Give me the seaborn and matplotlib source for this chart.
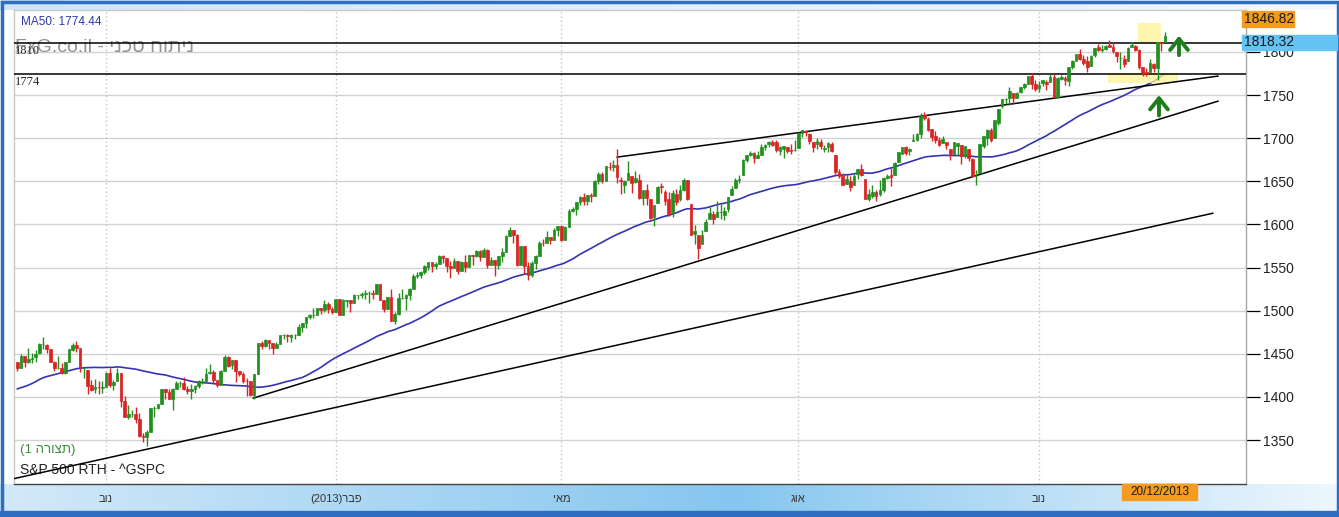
import numpy as np
import pandas as pd
import matplotlib.pyplot as plt
import seaborn as sns
from matplotlib.patches import Rectangle
from matplotlib.colors import to_rgb

# S&P 500 daily candles, 26/09/2012 .. 20/12/2013 (one row per month)
opens = [
    1441, 1433, 1447,
    1440, 1444, 1446, 1451, 1461, 1460, 1455, 1441, 1433, 1433, 1428, 1440, 1454, 1460, 1457, 1433, 1431, 1414, 1409, 1412, 1410,
    1412, 1428, 1414, 1418, 1428, 1395, 1377, 1380, 1380, 1374, 1355, 1354, 1359, 1387, 1387, 1392, 1409, 1406, 1398, 1409, 1416,
    1416, 1409, 1407, 1409, 1413, 1418, 1418, 1428, 1429, 1420, 1414, 1430, 1446, 1437, 1443, 1430, 1427, 1419, 1418, 1402,
    1426, 1462, 1459, 1466, 1462, 1457, 1461, 1472, 1472, 1470, 1472, 1472, 1481, 1486, 1493, 1495, 1495, 1503, 1501, 1508, 1502,
    1498, 1513, 1495, 1511, 1512, 1509, 1518, 1518, 1519, 1520, 1521, 1519, 1531, 1512, 1502, 1516, 1488, 1496, 1515,
    1515, 1518, 1525, 1540, 1541, 1545, 1551, 1556, 1552, 1554, 1563, 1561, 1552, 1549, 1558, 1546, 1556, 1551, 1564, 1563,
    1569, 1562, 1570, 1553, 1559, 1553, 1563, 1568, 1587, 1593, 1588, 1553, 1575, 1552, 1541, 1555, 1563, 1579, 1578, 1585, 1582, 1594,
    1598, 1582, 1597, 1615, 1618, 1626, 1632, 1627, 1634, 1633, 1650, 1659, 1650, 1667, 1666, 1669, 1651, 1646, 1652, 1656, 1649, 1652,
    1631, 1640, 1629, 1609, 1625, 1644, 1638, 1629, 1613, 1635, 1630, 1640, 1651, 1624, 1589, 1588, 1577, 1592, 1606, 1612,
    1609, 1614, 1611, 1618, 1634, 1642, 1652, 1657, 1675, 1680, 1683, 1677, 1681, 1690, 1693, 1696, 1696, 1685, 1687, 1690, 1686, 1686,
    1689, 1706, 1708, 1705, 1695, 1693, 1696, 1688, 1690, 1693, 1680, 1661, 1656, 1647, 1650, 1646, 1659, 1664, 1653, 1630, 1633, 1638,
    1635, 1640, 1654, 1657, 1657, 1672, 1682, 1690, 1685, 1697, 1698, 1705, 1727, 1722, 1711, 1702, 1698, 1694, 1695, 1688,
    1682, 1691, 1692, 1679, 1687, 1676, 1656, 1660, 1691, 1700, 1709, 1700, 1718, 1737, 1745, 1747, 1752, 1747, 1753, 1759, 1763, 1772, 1763,
    1758, 1764, 1765, 1765, 1771, 1748, 1769, 1770, 1766, 1783, 1790, 1798, 1792, 1789, 1784, 1796, 1806, 1802, 1803, 1808,
    1806, 1800, 1793, 1792, 1789, 1806, 1807, 1802, 1782, 1777, 1777, 1786, 1781, 1811, 1811,
]
highs = [
    1441, 1450, 1447,
    1457, 1451, 1454, 1462, 1470, 1461, 1456, 1442, 1447, 1439, 1441, 1455, 1462, 1465, 1457, 1435, 1431, 1420, 1421, 1418, 1418,
    1429, 1434, 1420, 1434, 1428, 1401, 1391, 1385, 1388, 1381, 1358, 1362, 1387, 1389, 1392, 1409, 1409, 1409, 1410, 1419, 1418,
    1423, 1413, 1415, 1414, 1420, 1422, 1434, 1438, 1431, 1420, 1431, 1448, 1447, 1443, 1443, 1430, 1429, 1422, 1418, 1426,
    1462, 1465, 1467, 1466, 1462, 1464, 1472, 1473, 1473, 1473, 1473, 1485, 1486, 1493, 1496, 1503, 1503, 1503, 1512, 1510, 1504,
    1514, 1513, 1514, 1512, 1512, 1519, 1518, 1522, 1524, 1523, 1524, 1531, 1531, 1512, 1516, 1525, 1499, 1520, 1525,
    1519, 1526, 1543, 1545, 1546, 1553, 1556, 1556, 1556, 1564, 1564, 1561, 1558, 1561, 1558, 1557, 1564, 1564, 1564, 1570,
    1570, 1573, 1572, 1562, 1559, 1563, 1573, 1588, 1597, 1593, 1589, 1575, 1575, 1556, 1558, 1565, 1581, 1583, 1592, 1585, 1596, 1598,
    1598, 1598, 1618, 1620, 1626, 1633, 1636, 1634, 1636, 1651, 1661, 1661, 1668, 1672, 1675, 1687, 1655, 1651, 1674, 1656, 1662, 1658,
    1640, 1647, 1629, 1623, 1644, 1648, 1640, 1637, 1640, 1641, 1646, 1654, 1652, 1624, 1599, 1588, 1593, 1606, 1620, 1615,
    1627, 1624, 1620, 1632, 1645, 1654, 1657, 1676, 1680, 1685, 1684, 1685, 1693, 1693, 1697, 1698, 1698, 1691, 1691, 1690, 1693, 1698,
    1707, 1709, 1710, 1706, 1696, 1700, 1699, 1692, 1696, 1695, 1680, 1664, 1660, 1659, 1656, 1659, 1664, 1670, 1653, 1641, 1646, 1640,
    1651, 1655, 1659, 1665, 1672, 1684, 1690, 1691, 1689, 1705, 1706, 1729, 1730, 1725, 1711, 1708, 1701, 1703, 1695, 1688,
    1696, 1694, 1692, 1691, 1687, 1677, 1663, 1693, 1703, 1711, 1712, 1721, 1734, 1745, 1747, 1759, 1752, 1753, 1759, 1764, 1772, 1775, 1768,
    1766, 1768, 1767, 1774, 1774, 1771, 1773, 1772, 1783, 1791, 1798, 1803, 1796, 1795, 1796, 1805, 1809, 1808, 1808, 1814,
    1811, 1800, 1800, 1796, 1806, 1811, 1808, 1803, 1783, 1781, 1792, 1787, 1812, 1811, 1823,
]
lows = [
    1430, 1433, 1435,
    1439, 1439, 1441, 1450, 1456, 1451, 1440, 1430, 1432, 1426, 1427, 1440, 1453, 1452, 1429, 1422, 1403, 1407, 1405, 1403, 1405,
    1412, 1412, 1408, 1418, 1388, 1377, 1374, 1377, 1370, 1353, 1348, 1343, 1359, 1377, 1386, 1392, 1397, 1397, 1385, 1409, 1411,
    1408, 1403, 1398, 1404, 1410, 1415, 1418, 1426, 1416, 1411, 1414, 1430, 1435, 1432, 1417, 1424, 1416, 1401, 1401, 1398,
    1426, 1455, 1458, 1456, 1450, 1457, 1461, 1467, 1464, 1464, 1467, 1472, 1475, 1480, 1490, 1492, 1495, 1496, 1498, 1497, 1496,
    1498, 1495, 1495, 1504, 1498, 1509, 1513, 1515, 1513, 1509, 1514, 1519, 1512, 1498, 1502, 1488, 1485, 1495, 1514,
    1501, 1512, 1525, 1538, 1538, 1543, 1547, 1545, 1548, 1554, 1555, 1545, 1538, 1549, 1543, 1546, 1545, 1551, 1553, 1562,
    1558, 1562, 1550, 1553, 1540, 1548, 1556, 1568, 1587, 1579, 1552, 1553, 1543, 1536, 1539, 1548, 1563, 1575, 1578, 1577, 1582, 1587,
    1581, 1582, 1597, 1614, 1611, 1623, 1622, 1623, 1626, 1633, 1647, 1648, 1650, 1663, 1662, 1648, 1635, 1636, 1652, 1636, 1648, 1630,
    1622, 1623, 1606, 1598, 1625, 1636, 1622, 1610, 1609, 1623, 1627, 1639, 1628, 1588, 1577, 1560, 1577, 1592, 1606, 1601,
    1609, 1606, 1605, 1614, 1634, 1642, 1648, 1657, 1672, 1679, 1671, 1677, 1681, 1686, 1690, 1691, 1684, 1681, 1677, 1683, 1682, 1685,
    1689, 1701, 1703, 1693, 1684, 1687, 1688, 1684, 1684, 1684, 1658, 1654, 1646, 1647, 1639, 1646, 1653, 1656, 1630, 1627, 1631, 1627,
    1633, 1637, 1653, 1645, 1657, 1672, 1682, 1680, 1681, 1697, 1697, 1700, 1721, 1708, 1697, 1694, 1691, 1694, 1687, 1675,
    1682, 1680, 1670, 1677, 1674, 1655, 1646, 1660, 1689, 1692, 1695, 1700, 1715, 1735, 1740, 1738, 1740, 1746, 1752, 1757, 1763, 1757, 1755,
    1753, 1761, 1756, 1765, 1747, 1746, 1767, 1762, 1761, 1780, 1790, 1791, 1785, 1777, 1784, 1794, 1801, 1800, 1802, 1806,
    1799, 1788, 1780, 1783, 1789, 1806, 1801, 1780, 1772, 1772, 1777, 1777, 1767, 1801, 1811,
]
closes = [
    1433, 1447, 1441,
    1444, 1445, 1450, 1461, 1461, 1455, 1441, 1433, 1433, 1428, 1440, 1455, 1460, 1457, 1433, 1433, 1413, 1408, 1412, 1411, 1412,
    1428, 1414, 1417, 1428, 1395, 1377, 1380, 1380, 1374, 1355, 1353, 1359, 1387, 1387, 1392, 1409, 1406, 1398, 1409, 1416, 1416,
    1409, 1407, 1409, 1413, 1418, 1418, 1427, 1429, 1420, 1414, 1430, 1446, 1436, 1443, 1430, 1427, 1419, 1418, 1402, 1426,
    1462, 1459, 1466, 1462, 1457, 1461, 1472, 1472, 1471, 1472, 1472, 1481, 1486, 1493, 1495, 1495, 1503, 1501, 1508, 1502, 1498,
    1514, 1495, 1512, 1512, 1509, 1518, 1518, 1519, 1520, 1521, 1519, 1531, 1512, 1502, 1516, 1488, 1496, 1515, 1515,
    1518, 1525, 1540, 1541, 1545, 1552, 1556, 1552, 1554, 1563, 1561, 1552, 1549, 1558, 1546, 1556, 1551, 1564, 1563, 1569,
    1562, 1570, 1553, 1559, 1553, 1563, 1568, 1587, 1593, 1588, 1553, 1575, 1552, 1541, 1555, 1563, 1579, 1578, 1585, 1582, 1594, 1598,
    1582, 1597, 1615, 1618, 1626, 1632, 1627, 1634, 1633, 1650, 1659, 1650, 1668, 1666, 1669, 1655, 1650, 1650, 1660, 1648, 1654, 1631,
    1640, 1631, 1608, 1623, 1643, 1643, 1627, 1612, 1636, 1626, 1640, 1652, 1629, 1588, 1592, 1573, 1588, 1603, 1613, 1606,
    1614, 1614, 1615, 1632, 1641, 1652, 1653, 1675, 1680, 1683, 1677, 1681, 1690, 1692, 1695, 1692, 1686, 1690, 1691, 1685, 1685, 1686,
    1706, 1709, 1707, 1697, 1690, 1697, 1691, 1689, 1694, 1685, 1661, 1656, 1646, 1653, 1643, 1656, 1664, 1657, 1630, 1635, 1638, 1633,
    1640, 1654, 1656, 1655, 1671, 1684, 1690, 1683, 1688, 1698, 1705, 1726, 1723, 1710, 1701, 1698, 1692, 1699, 1692, 1682,
    1695, 1694, 1679, 1691, 1677, 1656, 1656, 1693, 1703, 1710, 1698, 1721, 1734, 1745, 1745, 1755, 1746, 1752, 1759, 1763, 1772, 1763, 1757,
    1762, 1767, 1763, 1771, 1748, 1770, 1771, 1768, 1783, 1790, 1798, 1792, 1787, 1782, 1795, 1805, 1802, 1803, 1807, 1806,
    1801, 1795, 1793, 1786, 1805, 1808, 1802, 1783, 1775, 1775, 1787, 1781, 1811, 1810, 1818,
]
# 50 closes before the first candle (17/07 .. 25/09/2012), only to start the MA50
ma_warmup = [
    1364, 1373, 1376, 1363, 1350, 1338, 1338, 1361, 1386, 1386, 1379,
    1375, 1366, 1391, 1394, 1401, 1402, 1403, 1405, 1404, 1404, 1405, 1415, 1418, 1418, 1413, 1413, 1402, 1411, 1410, 1409, 1410, 1399, 1407,
    1404, 1404, 1432, 1438, 1429, 1433, 1436, 1460, 1466, 1462, 1459, 1461, 1461, 1460, 1456, 1441,
]
market_holidays = ["2012-10-29", "2012-10-30", "2012-11-22", "2012-12-25", "2013-01-01", "2013-01-21",
                   "2013-02-18", "2013-03-29", "2013-05-27", "2013-07-04", "2013-09-02", "2013-11-28"]

# drawn trend lines, (candle index, price) at both ends
trend_start = [(-1.1, 1305), (63.7, 1398.5), (162.0, 1678)]
trend_end = [(323.0, 1613), (324.4, 1743), (324.4, 1772)]
levels = [1810, 1774]
# highlighted zones: (first index, last index, low price, high price)
zones = [(294.6, 313.6, 1764, 1775.5), (302.8, 308.9, 1810.3, 1833.5)]
# green arrows: (index, from price, to price)
arrows = [(313.8, 1793, 1822), (308.4, 1723, 1753)]

month_heb = {11: "נוב", 2: "פבר", 5: "מאי", 8: "אוג"}
price_ticks = list(range(1350, 1801, 50))
y_range = (1299.0, 1848.6)


def heb(s):
    # matplotlib has no bidi, so give the glyphs in visual order
    return s[::-1]


W, H = 1339, 517
sns.set_style("white")
plt.rcParams["font.family"] = ["Liberation Sans", "DejaVu Sans"]

fig = plt.figure(figsize=(W / 100, H / 100), dpi=100, facecolor="white")


def fx(px):
    return px / W


def fy(py):
    return 1 - py / H


# background strips and frame
bg = fig.add_axes([0, 0, 1, 1], zorder=0)
bg.set_xlim(0, W)
bg.set_ylim(H, 0)
bg.axis("off")


def hgrad(stops, cols):
    xs = np.linspace(0, 1, 400)
    rgb = [np.interp(xs, stops, [to_rgb(c)[i] for c in cols]) for i in range(3)]
    return np.stack(rgb, axis=-1)[None, :, :]


bg.imshow(hgrad([0, 0.55, 1], ["#d3e9f9", "#86c6ef", "#eef7fd"]), extent=(0, W, 512, 484), aspect="auto")
bg.imshow(hgrad([0, 0.5, 1], ["#cfe5f7", "#e2f0fb", "#f2f8fd"]), extent=(0, W, 10, 0), aspect="auto")
bg.add_patch(Rectangle((0, 511), W, 6, color="#2f6fc2"))
bg.add_patch(Rectangle((1.5, 1.5), W - 3, H - 3, fill=False, ec="#2f6fc2", lw=2.5))

ax = fig.add_axes([fx(14), fy(484), fx(1246 - 14), (484 - 10) / H], zorder=1)
ax.set_facecolor("white")

o = np.array(opens, float)
h = np.array(highs, float)
l = np.array(lows, float)
c = np.array(closes, float)
x = np.arange(len(c))

dates = pd.bdate_range("2012-09-26", "2013-12-20", freq="C", holidays=market_holidays)
future = pd.bdate_range("2013-12-23", "2014-02-28")
all_dates = dates.append(future)

# month ticks
ser = pd.Series(np.arange(len(all_dates)), index=all_dates)
firsts = ser.groupby([all_dates.year, all_dates.month]).min()
x_lo, x_hi = -0.86, 331.9
major_pos, major_lab, minor_pos = [], [], []
for (yr, mo), pos in firsts.items():
    if pos <= 0 or pos > x_hi:
        continue
    if mo in month_heb:
        lab = heb(month_heb[mo])
        if mo == 2:
            lab = "(%d)" % yr + lab
        major_pos.append(pos)
        major_lab.append(lab)
    else:
        minor_pos.append(pos)

# grid
for p in price_ticks:
    ax.axhline(p, color="#d2d2d2", lw=1, zorder=0)
for p in major_pos:
    ax.axvline(p, color="#c4c4c4", lw=1, ls=(0, (1, 2)), zorder=0)

# MA50
ma = pd.Series(ma_warmup + closes).rolling(50).mean().iloc[len(ma_warmup):].to_numpy()
sns.lineplot(x=x, y=ma, ax=ax, color="#3434b2", lw=1.2, zorder=2)

# highlight zones
for x0, x1, p0, p1 in zones:
    ax.add_patch(Rectangle((x0, p0), x1 - x0, p1 - p0, color="#fdf393", alpha=0.75, lw=0, zorder=3))

# trend lines and levels
for (x0, p0), (x1, p1) in zip(trend_start, trend_end):
    ax.plot([x0, x1], [p0, p1], color="black", lw=1.1, zorder=4)
for lv in levels:
    ax.axhline(lv, color="black", lw=1.1, zorder=4)

# candles
up = c >= o
cols = np.where(up, "#22901f", "#dc2323")
ax.vlines(x, l, h, colors=cols, lw=1, zorder=5)
ax.bar(x, np.abs(c - o), bottom=np.minimum(o, c), width=0.72, color=cols,
       edgecolor=cols, lw=0.5, zorder=6)

# arrows
for ax_x, p0, p1 in arrows:
    ax.annotate("", xy=(ax_x, p1), xytext=(ax_x, p0),
                arrowprops=dict(arrowstyle="->,head_length=0.4,head_width=0.32",
                                color="#1d7d1d", lw=2.8, mutation_scale=20), zorder=7)

ax.set_xlim(x_lo, x_hi)
ax.set_ylim(*y_range)
ax.yaxis.tick_right()
ax.set_yticks(price_ticks)
ax.set_yticklabels([str(p) for p in price_ticks])
ax.tick_params(axis="y", direction="out", length=10, width=0.9, color="black",
               labelsize=10, labelcolor="#222222", pad=2)
ax.set_xticks(major_pos)
ax.set_xticklabels(major_lab, fontsize=8, color="#333333",
                   family=["Liberation Sans Narrow", "Liberation Sans", "DejaVu Sans"])
ax.set_xticks(minor_pos, minor=True)
ax.tick_params(axis="x", which="major", direction="out", length=6, width=1.4, color="#333333", pad=1.5)
ax.tick_params(axis="x", which="minor", direction="out", length=5, width=1, color="#d9aaaa")
for side in ["top", "left"]:
    ax.spines[side].set_color("#c8c8c8")
ax.spines["right"].set_color("#a8a8a8")
ax.spines["bottom"].set_color("#444444")
for s in ax.spines.values():
    s.set_linewidth(1)
ax.set_xlabel("")
ax.set_ylabel("")

# texts inside the plot (behind the drawn lines)
tf = fig.transFigure
ax.text(fx(21), fy(22), "MA50: 1774.44", transform=tf, fontsize=8.5, color="#2b3ca5", va="center", zorder=1)
ax.text(fx(15), fy(47), "FxG.co.il - " + heb("ניתוח טכני"), transform=tf, fontsize=14,
        color="#939393", va="center", zorder=1)
ax.text(fx(15), fy(51), "1810", transform=tf, fontsize=9, family="Liberation Serif", va="center", zorder=1)
ax.text(fx(15), fy(82), "1774", transform=tf, fontsize=9, family="Liberation Serif", va="center", zorder=1)
ax.text(fx(20), fy(450), "(1 " + heb("תצורה") + ")", transform=tf, fontsize=9.5, color="#3b8f3b",
        va="center", zorder=1)
ax.text(fx(20), fy(470), "S&P 500 RTH - ^GSPC", transform=tf, fontsize=10, color="#222222",
        va="center", zorder=1)

# value boxes on the price axis and date box
boxes = [
    (1242, 11, 1294, 27, "#f29b1d", "1846.82", 1244, "left"),
    (1242, 35, 1337, 50, "#62c3f4", "1818.32", 1244, "left"),
    (1122, 484, 1197, 500, "#f39c1f", "20/12/2013", 1159.5, "center"),
]
for x0, y0, x1, y1, col, txt, tx, ha in boxes:
    fig.add_artist(Rectangle((fx(x0), fy(y1)), fx(x1 - x0), (y1 - y0) / H, color=col,
                             transform=tf, zorder=5))
    fig.text(fx(tx), fy((y0 + y1) / 2), txt, fontsize=10 if ha == "left" else 8.5,
             ha=ha, va="center", color="#1a1a1a", zorder=6,
             family=["Liberation Sans", "DejaVu Sans"] if ha == "left"
             else ["Liberation Sans Narrow", "Liberation Sans", "DejaVu Sans"])

fig.savefig("out.png", dpi=100, facecolor=fig.get_facecolor())
